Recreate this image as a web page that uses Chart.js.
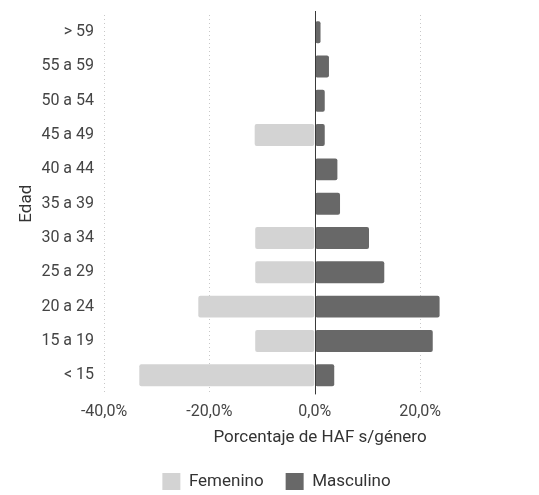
<!DOCTYPE html>
<html>
<head>
<meta charset="utf-8">
<script src="https://cdn.jsdelivr.net/npm/chart.js"></script>
<style>
  html, body { margin: 0; padding: 0; background: #fff; }
  #wrap { width: 539px; height: 495px; }
</style>
</head>
<body>
<div id="wrap"><canvas id="pyramid"></canvas></div>
<script>
const ageGroups = ["> 59", "55 a 59", "50 a 54", "45 a 49", "40 a 44", "35 a 39",
  "30 a 34", "25 a 29", "20 a 24", "15 a 19", "< 15"];
const femenino = [0, 0, 0, -11.4, 0, 0, -11.3, -11.3, -22.1, -11.3, -33.3];
const masculino = [1.1, 2.7, 1.9, 1.9, 4.3, 4.8, 10.3, 13.2, 23.7, 22.4, 3.7];
const xTicks = [-40, -20, 0, 20];

const FONT = "Roboto, 'Noto Sans', sans-serif";

// solid line at 0 %, drawn from the x scale
const zeroLine = {
  id: "zeroLine",
  afterDatasetsDraw(chart) {
    const x = Math.round(chart.scales.x.getPixelForValue(0)) + 0.5;
    const area = chart.chartArea;
    const ctx = chart.ctx;
    ctx.save();
    ctx.strokeStyle = "#3a3a3a";
    ctx.lineWidth = 1;
    ctx.beginPath();
    ctx.moveTo(x, area.top - 4);
    ctx.lineTo(x, area.bottom + 2);
    ctx.stroke();
    ctx.restore();
  },
};

new Chart(document.getElementById("pyramid").getContext("2d"), {
  type: "bar",
  data: {
    labels: ageGroups,
    datasets: [
      {
        label: "Femenino",
        data: femenino,
        backgroundColor: "#d3d3d3",
        borderWidth: 0,
        borderRadius: 2,
        borderSkipped: false,
      },
      {
        label: "Masculino",
        data: masculino,
        backgroundColor: "#686868",
        borderWidth: 0,
        borderRadius: 2,
        borderSkipped: false,
      },
    ],
  },
  plugins: [zeroLine],
  options: {
    indexAxis: "y",
    responsive: true,
    maintainAspectRatio: false,
    animation: false,
    layout: { padding: { left: 17, right: 3, top: 15, bottom: -5 } },
    plugins: {
      tooltip: { enabled: false },
      legend: {
        position: "bottom",
        labels: {
          color: "#333",
          font: { family: FONT, size: 17 },
          boxWidth: 18,
          boxHeight: 17,
          padding: 22,
        },
      },
    },
    datasets: {
      bar: { categoryPercentage: 1, barPercentage: 0.64 },
    },
    scales: {
      x: {
        stacked: true,
        min: -40,
        max: 42,
        afterBuildTicks: (scale) => {
          scale.ticks = xTicks.map((v) => ({ value: v }));
        },
        ticks: {
          color: "#444",
          font: { family: FONT, size: 16 },
          padding: 10,
          callback: (v) => v.toFixed(1).replace(".", ",") + "%",
        },
        grid: {
          color: (c) => (c.tick && c.tick.value === 0 ? "rgba(0,0,0,0)" : "#c8c8c8"),
          drawTicks: false,
        },
        border: { display: false, dash: [1, 3] },
        title: {
          display: true,
          text: "Porcentaje de HAF s/género",
          color: "#333",
          font: { family: FONT, size: 17 },
          padding: { top: -4, bottom: 3 },
        },
      },
      y: {
        stacked: true,
        // invisible tick marks keep the gap between labels and bars
        grid: {
          display: true,
          drawOnChartArea: false,
          drawTicks: true,
          tickLength: 10,
          tickColor: "rgba(0,0,0,0)",
          color: "rgba(0,0,0,0)",
        },
        border: { display: false },
        ticks: {
          color: "#444",
          font: { family: FONT, size: 16 },
          padding: 0,
        },
        title: {
          display: true,
          text: "Edad",
          color: "#333",
          font: { family: FONT, size: 17 },
          padding: { top: 0, bottom: 4 },
        },
      },
    },
  },
});
</script>
</body>
</html>
